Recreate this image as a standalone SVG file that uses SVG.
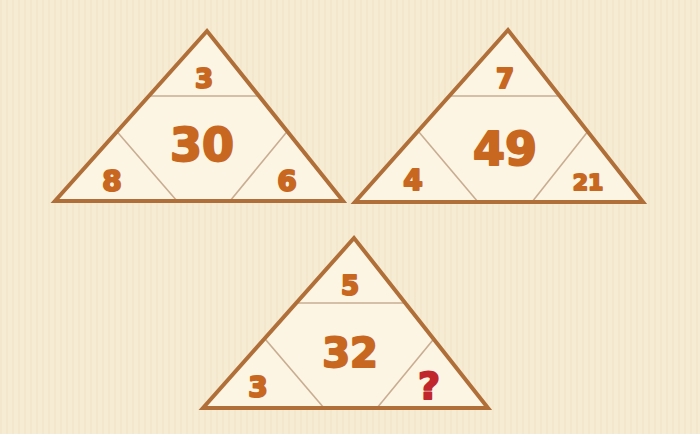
<svg xmlns="http://www.w3.org/2000/svg" width="700" height="434" viewBox="0 0 700 434">
<defs>
<pattern id="stripes" width="6" height="434" patternUnits="userSpaceOnUse">
<rect width="6" height="434" fill="#f6ecd4"/>
<rect x="0" width="2" height="434" fill="#f3e7cd"/>
</pattern>
<clipPath id="c1"><polygon points="207,31 55,201 343,201"/></clipPath>
<clipPath id="c2"><polygon points="508,30 355,202 643,202"/></clipPath>
<clipPath id="c3"><polygon points="354,238 203,408 488,408"/></clipPath>
</defs>
<style>
.outer{fill:#fcf5e3;stroke:none}
.edge{fill:none;stroke:#b06f38;stroke-width:4;stroke-linejoin:miter}
.inner{stroke:#c9ad92;stroke-width:1.6;fill:none}
.n{font-family:"DejaVu Sans",sans-serif;font-weight:bold;fill:#c8671f;stroke:#c8671f;stroke-width:2;stroke-linejoin:round;text-anchor:middle}
.q{fill:#c0262c;stroke:#c0262c}
</style>
<rect width="700" height="434" fill="url(#stripes)"/>
<g id="triangle1">
<polygon class="outer" points="207,31 55,201 343,201"/>
<g clip-path="url(#c1)">
<line class="inner" x1="100" y1="96" x2="300" y2="96"/>
<line class="inner" x1="100" y1="112" x2="177" y2="201"/>
<line class="inner" x1="304" y1="111" x2="230" y2="201"/>
</g>
<polygon class="edge" points="207,31 55,201 343,201"/>
<text class="n" x="204" y="88" font-size="26">3</text>
<text class="n" x="202" y="161" font-size="46">30</text>
<text class="n" x="112" y="191" font-size="28">8</text>
<text class="n" x="287" y="191" font-size="28">6</text>
</g>
<g id="triangle2">
<polygon class="outer" points="508,30 355,202 643,202"/>
<g clip-path="url(#c2)">
<line class="inner" x1="400" y1="96" x2="600" y2="96"/>
<line class="inner" x1="402" y1="112" x2="478" y2="202"/>
<line class="inner" x1="604" y1="111" x2="532" y2="202"/>
</g>
<polygon class="edge" points="508,30 355,202 643,202"/>
<text class="n" x="505" y="88" font-size="26">7</text>
<text class="n" x="505" y="165" font-size="46">49</text>
<text class="n" x="413" y="190" font-size="28">4</text>
<text class="n" x="588" y="190" font-size="22">21</text>
</g>
<g id="triangle3">
<polygon class="outer" points="354,238 203,408 488,408"/>
<g clip-path="url(#c3)">
<line class="inner" x1="250" y1="303" x2="450" y2="303"/>
<line class="inner" x1="248" y1="319" x2="324" y2="408"/>
<line class="inner" x1="451" y1="318" x2="377" y2="408"/>
</g>
<polygon class="edge" points="354,238 203,408 488,408"/>
<text class="n" x="350" y="295" font-size="26">5</text>
<text class="n" x="350" y="367" font-size="40">32</text>
<text class="n" x="258" y="397" font-size="28">3</text>
<text class="n q" x="429" y="399" font-size="38">?</text>
</g>
</svg>
